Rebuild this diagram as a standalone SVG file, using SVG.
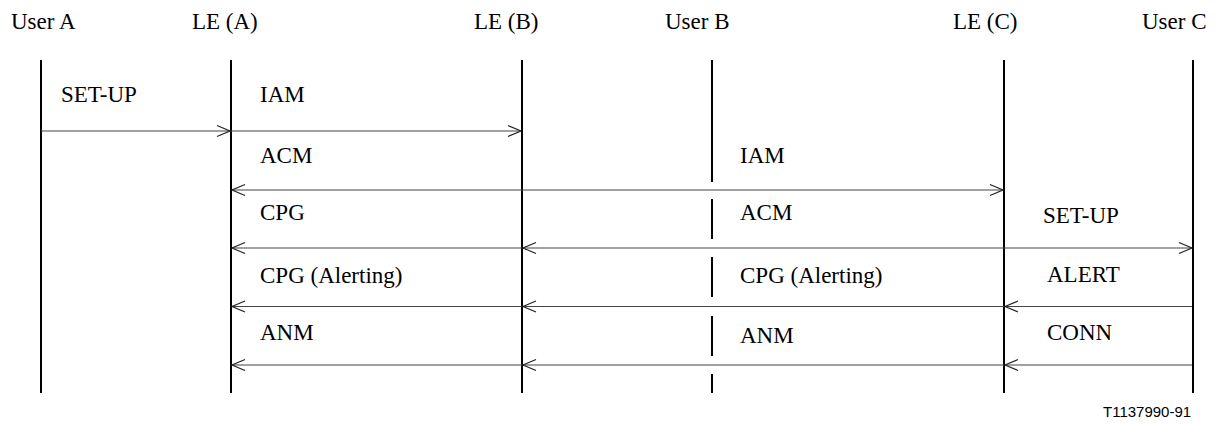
<svg xmlns="http://www.w3.org/2000/svg" width="1219" height="424" viewBox="0 0 1219 424">
<style>
  text.t { font-family: 'Liberation Serif', 'Times New Roman', Times, serif; font-size: 23px; fill: #000; }
  text.fig { font-family: 'Liberation Sans', Arial, sans-serif; font-size: 15px; fill: #000; }
  .life { stroke: #000; stroke-width: 2; fill: none; }
  .msg { stroke: #444; stroke-width: 1.2; fill: none; marker-end: url(#ah); }
</style>
<defs>
  <marker id="ah" markerUnits="userSpaceOnUse" markerWidth="16" markerHeight="14" viewBox="-15 -7 16 14" refX="0" refY="0" orient="auto" overflow="visible">
    <path d="M -13 -5.5 L 0 0 L -13 5.5" fill="none" stroke="#222" stroke-width="1.2"/>
  </marker>
</defs>
<rect width="1219" height="424" fill="#fff"/>

<g id="userA">
  <text class="t" x="11" y="29">User A</text>
  <line class="life" x1="41" y1="60" x2="41" y2="393"/>
</g>
<g id="leA">
  <text class="t" x="192" y="29">LE (A)</text>
  <line class="life" x1="231" y1="60" x2="231" y2="393"/>
</g>
<g id="leB">
  <text class="t" x="474" y="29">LE (B)</text>
  <line class="life" x1="522" y1="60" x2="522" y2="393"/>
</g>
<g id="userB">
  <text class="t" x="665" y="29">User B</text>
  <path class="life" d="M712 60 V182 M712 199 V239 M712 257 V297 M712 316 V356 M712 374 V393"/>
</g>
<g id="leC">
  <text class="t" x="953" y="29">LE (C)</text>
  <line class="life" x1="1004" y1="60" x2="1004" y2="393"/>
</g>
<g id="userC">
  <text class="t" x="1142" y="29">User C</text>
  <line class="life" x1="1193" y1="60" x2="1193" y2="393"/>
</g>

<g id="connectors">
  <line class="msg" x1="41" y1="131" x2="230" y2="131"/>
  <line class="msg" x1="231" y1="131" x2="521" y2="131"/>
  <line class="msg" x1="522" y1="190" x2="232" y2="190"/>
  <line class="msg" x1="522" y1="190" x2="1003" y2="190"/>
  <line class="msg" x1="522" y1="248" x2="232" y2="248"/>
  <line class="msg" x1="1004" y1="248" x2="523" y2="248"/>
  <line class="msg" x1="1004" y1="248" x2="1192" y2="248"/>
  <line class="msg" x1="522" y1="306.5" x2="232" y2="306.5"/>
  <line class="msg" x1="1004" y1="306.5" x2="523" y2="306.5"/>
  <line class="msg" x1="1192" y1="306.5" x2="1005" y2="306.5"/>
  <line class="msg" x1="522" y1="365" x2="232" y2="365"/>
  <line class="msg" x1="1004" y1="365" x2="523" y2="365"/>
  <line class="msg" x1="1192" y1="365" x2="1005" y2="365"/>
</g>

<g id="labels">
  <text class="t" x="61" y="102">SET-UP</text>
  <text class="t" x="260" y="102">IAM</text>
  <text class="t" x="260" y="163">ACM</text>
  <text class="t" x="740" y="163">IAM</text>
  <text class="t" x="260" y="219.5">CPG</text>
  <text class="t" x="740" y="219.5">ACM</text>
  <text class="t" x="1043" y="223">SET-UP</text>
  <text class="t" x="260" y="283">CPG (Alerting)</text>
  <text class="t" x="740" y="283">CPG (Alerting)</text>
  <text class="t" x="1047" y="282">ALERT</text>
  <text class="t" x="260" y="340">ANM</text>
  <text class="t" x="740" y="343">ANM</text>
  <text class="t" x="1047" y="340">CONN</text>
  <text class="fig" x="1103" y="416.5">T1137990-91</text>
</g>
</svg>
